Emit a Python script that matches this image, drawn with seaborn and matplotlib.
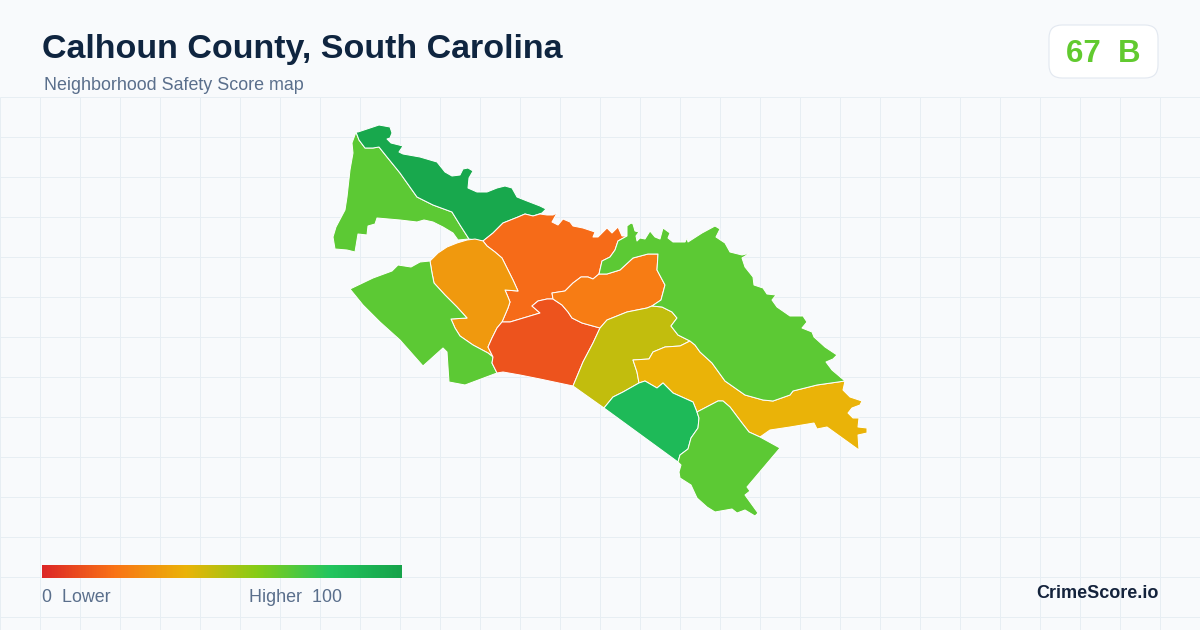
import numpy as np
import matplotlib
matplotlib.use("Agg")
import matplotlib.pyplot as plt
from matplotlib.collections import PolyCollection
from matplotlib.colors import Normalize
from matplotlib.patches import FancyBboxPatch
import seaborn as sns

# ---- data -----------------------------------------------------------------
TITLE = "Calhoun County, South Carolina"
SUBTITLE = "Neighborhood Safety Score map"
COUNTY_SCORE = 67
COUNTY_GRADE = "B"
SCALE_MIN = 0
SCALE_MAX = 100
RAMP_COLORS = ["#dc2626", "#f97316", "#eab308", "#84cc16", "#22c55e", "#16a34a"]

# neighbourhood scores
NEIGHBORHOODS = ["nw", "north", "central_n", "west", "southwest", "center",
                 "east_orange", "olive", "yellow", "green", "southeast", "east"]
SCORES = [68, 97, 18, 32, 68, 12, 23, 48, 40, 86, 68, 68]

# boundary chains of the map (shared borders are stored once)
nw_north = [(356,132),(359,140),(365,148),(373,148),(379,147),(387,157),(400,173),(417,197),(433,205),(452,212),(460,225),(469,239)]
nw_outer = [(458,240),(453,233),(443,227),(433,222),(424,220),(417,222),(400,220),(377,218),(375,224),(368,226),(367,235),(358,234),(355,252),(347,250),(335,249),(333,237),(336,227),(345,210),(347,197),(350,170),(353,153),(352,143)]
north_outer = [(358,132),(370,128),(379,125),(390,127),(392,133),(390,138),(387,139),(391,143),(403,146),(399,152),(403,154),(420,157),(437,162),(445,172),(452,176),(460,175),(463,169),(468,168),(473,171),(469,178),(468,188),(477,192),(487,192),(497,188),(505,186),(512,188),(517,197),(527,201),(540,206),(546,209),(542,213),(533,216)]
north_central = [(483,241),(493,233),(503,223),(518,217),(525,214),(533,216)]
central_top = [(533,216),(540,214),(547,215),(553,215),(557,213),(552,222),(558,225),(563,219),(570,222),(573,226),(583,228),(595,232),(593,237),(598,237),(607,228),(612,233),(618,227),(622,236),(627,236)]
central_east = [(627,236),(618,241),(615,250),(610,257),(602,261),(599,274)]
central_orange = [(599,274),(593,279),(588,277),(581,277),(573,283),(565,291),(552,293),(553,299)]
central_center = [(553,299),(547,299),(538,301),(532,306),(540,313),(520,319),(510,322),(502,322)]
central_west = [(502,322),(508,308),(510,302),(508,297),(505,290),(518,291),(513,280),(508,270),(502,258),(495,252),(487,246),(483,241)]
west_top = [(483,241),(475,239),(467,240),(457,243),(447,247),(438,253),(430,261)]
west_sw = [(430,261),(432,273),(434,283),(445,295),(457,307),(467,318),(451,319),(455,328),(460,336),(473,345),(488,353),(493,357)]
west_center = [(493,357),(488,347),(492,338),(497,328),(502,322)]
center_orange = [(553,299),(562,305),(568,312),(572,318),(582,323),(600,328)]
center_olive = [(600,328),(593,343),(583,362),(573,386)]
center_south = [(573,386),(540,379),(520,375),(503,372),(497,373)]
center_sw = [(497,373),(492,363),(493,357)]
sw_outer = [(430,261),(420,262),(411,267),(398,265),(392,271),(373,278),(350,289),(363,305),(380,322),(400,340),(423,366),(443,348),(447,352),(448,367),(449,382),(465,385),(497,373)]
orange_east = [(599,274),(607,274),(620,270),(633,258),(648,254),(658,254),(657,270),(665,285),(661,300),(652,306)]
orange_olive = [(652,306),(647,308),(627,312),(607,320),(600,328)]
olive_east = [(652,306),(662,307),(672,312),(677,318),(671,326),(678,335),(690,341)]
olive_yellow = [(690,341),(680,346),(665,347),(653,352),(649,359),(633,360),(637,372),(639,383)]
olive_green = [(639,383),(623,392),(613,397),(604,408)]
olive_south = [(604,408),(573,386)]
yellow_east = [(690,341),(695,345),(700,352),(712,363),(725,381),(745,395),(763,400),(773,401),(790,395),(793,391),(817,385),(845,381)]
yellow_outer = [(845,381),(843,390),(850,397),(862,401),(860,405),(852,408),(848,413),(853,418),(859,418),(858,427),(867,428),(867,433),(858,435),(859,450),(827,427),(817,429),(814,423),(790,427),(770,430),(760,437)]
yellow_se = [(760,437),(749,432),(742,423),(730,407),(723,401),(718,401),(697,412)]
yellow_green = [(697,412),(693,402),(673,393),(663,383),(657,388),(645,381),(639,383)]
green_se = [(697,412),(699,418),(698,428),(691,438),(688,449),(680,455),(678,462)]
green_south = [(678,462),(604,408)]
se_outer = [(760,437),(780,448),(747,487),(750,491),(745,495),(758,513),(755,516),(745,510),(737,513),(732,509),(715,512),(707,507),(697,498),(691,485),(680,478),(679,472),(681,465),(678,462)]
east_outer = [(627,236),(627,226),(631,223),(633,224),(635,231),(639,232),(636,236),(637,241),(640,238),(645,239),(650,231),(655,237),(660,239),(663,228),(670,233),(668,238),(673,242),(685,242),(687,238),(688,242),(702,233),(715,226),(720,229),(716,237),(725,243),(730,252),(742,255),(750,253),(742,258),(745,267),(753,277),(754,285),(763,288),(767,294),(776,295),(772,300),(777,307),(790,316),(803,316),(807,322),(802,328),(812,332),(814,337),(825,347),(837,355),(833,359),(826,362),(832,370),(845,381)]

# ---- styling --------------------------------------------------------------
sns.set_theme(style="white")
plt.rcParams["font.family"] = ["Liberation Sans", "DejaVu Sans"]
BG = "#f8fafc"
cmap = sns.blend_palette(RAMP_COLORS, n_colors=256, as_cmap=True)
norm = Normalize(SCALE_MIN, SCALE_MAX)


def chain(*parts):
    pts = []
    for p in parts:
        pts.extend(p)
    return pts


shapes = {
    "nw": chain(nw_north, nw_outer),
    "north": chain(north_outer, north_central[::-1], [(469, 239)], nw_north[::-1]),
    "central_n": chain(north_central, central_top, central_east, central_orange, central_center, central_west),
    "west": chain(west_top, west_sw, west_center, central_west),
    "southwest": chain(sw_outer, center_sw, west_sw[::-1]),
    "center": chain(central_center[::-1], center_orange, center_olive, center_south, center_sw, west_center),
    "east_orange": chain(orange_east, orange_olive, center_orange[::-1], central_orange[::-1]),
    "olive": chain(olive_east, olive_yellow, olive_green, olive_south, center_olive[::-1], orange_olive[::-1]),
    "yellow": chain(olive_yellow[::-1], yellow_east, yellow_outer, yellow_se, yellow_green, olive_yellow[-1:]),
    "green": chain(olive_green[::-1], yellow_green[::-1], green_se, green_south),
    "southeast": chain(se_outer, green_se[::-1], yellow_se[::-1]),
    "east": chain(central_east[::-1], east_outer, yellow_east[::-1], olive_east[::-1], orange_east[::-1]),
}

fig = plt.figure(figsize=(12, 6.3), dpi=100, facecolor=BG)
ax = fig.add_axes([0, 0, 1, 1])
ax.set_xlim(0, 1200)
ax.set_ylim(630, 0)
ax.set_facecolor(BG)
ax.axis("off")

# background grid
ax.vlines(np.arange(0, 1200, 40), 96.5, 630, color="#e7eef3", lw=0.72, zorder=1)
ax.hlines(np.arange(96.5, 630, 40), 0, 1200, color="#e7eef3", lw=0.72, zorder=1)

# map
polys = PolyCollection([shapes[n] for n in NEIGHBORHOODS], array=np.array(SCORES, float),
                       cmap=cmap, norm=norm, edgecolors="#ffffff", linewidths=0.72,
                       joinstyle="round", zorder=3)
ax.add_collection(polys)

# header
ax.text(42, 49.5, TITLE, fontsize=24.5, fontweight="bold", color="#0f2540", va="center", ha="left", zorder=5)
ax.text(44, 86, SUBTITLE, fontsize=12.9, color="#5a6f8c", va="center", ha="left", zorder=5)

# score badge
ax.add_patch(FancyBboxPatch((1049, 25), 109, 53, boxstyle="round,pad=0,rounding_size=13",
                            fc="#ffffff", ec="#e2e8f0", lw=0.8, zorder=4))
ax.text(1103, 53.5, f"{COUNTY_SCORE}  {COUNTY_GRADE}", fontsize=22.5, fontweight="bold",
        color=cmap(norm(COUNTY_SCORE)), va="center", ha="center", zorder=5)

# legend ramp
cax = fig.add_axes([42 / 1200, 1 - 578 / 630, 360 / 1200, 13 / 630])
sns.heatmap(np.linspace(SCALE_MIN, SCALE_MAX, 360)[None, :], cmap=cmap, vmin=SCALE_MIN, vmax=SCALE_MAX,
            cbar=False, xticklabels=False, yticklabels=False, ax=cax)
ax.text(42, 597, f"{SCALE_MIN}  Lower", fontsize=12.9, color="#5a6f8c", va="center", ha="left", zorder=5)
ax.text(342, 597, f"Higher  {SCALE_MAX}", fontsize=12.9, color="#5a6f8c", va="center", ha="right", zorder=5)

# brand
ax.text(1158.5, 594, "CrimeScore.io", fontsize=13, fontweight="bold", color="#14233c", va="center", ha="right", zorder=5)

fig.savefig("out.png", dpi=100, facecolor=BG)
